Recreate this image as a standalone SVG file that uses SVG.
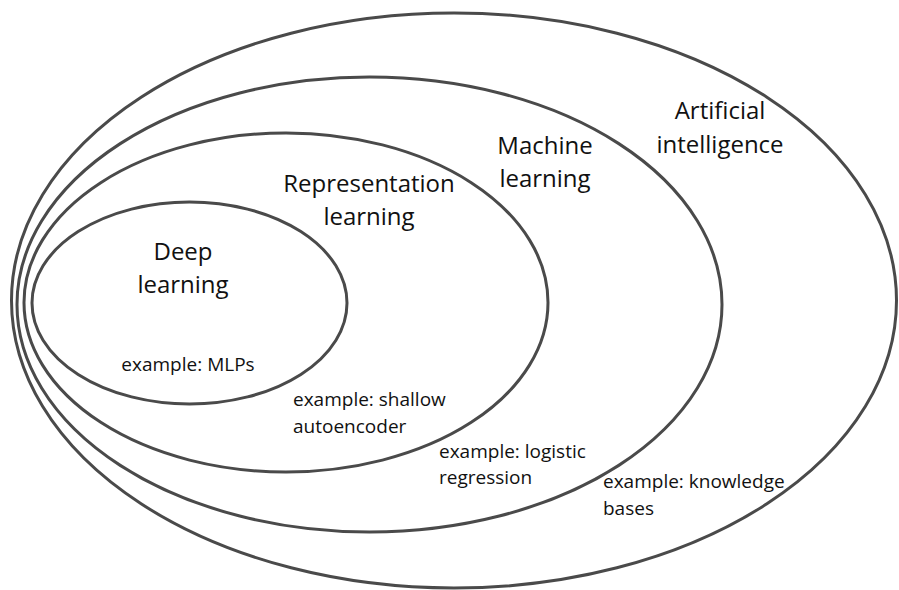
<svg xmlns="http://www.w3.org/2000/svg" width="899" height="590" viewBox="0 0 899 590">
  <style>
    .ring { fill: none; stroke: #4a4a4a; stroke-width: 3; }
    .title { font-family: "Open Sans", "Liberation Sans", sans-serif; font-size: 24px; fill: #111111; text-anchor: middle; }
    .note { font-family: "Open Sans", "Liberation Sans", sans-serif; font-size: 19px; fill: #111111; }
  </style>
  <rect width="899" height="590" fill="#ffffff"/>

  <g id="artificial-intelligence">
    <ellipse class="ring" cx="454" cy="300.5" rx="442.5" ry="287.5"/>
    <text class="title" x="720" y="119">Artificial</text>
    <text class="title" x="720" y="153">intelligence</text>
    <text class="note" x="603" y="488">example: knowledge</text>
    <text class="note" x="603" y="515">bases</text>
  </g>

  <g id="machine-learning">
    <ellipse class="ring" cx="369.5" cy="304.5" rx="352.5" ry="227.5"/>
    <text class="title" x="545" y="154">Machine</text>
    <text class="title" x="545" y="187">learning</text>
    <text class="note" x="439" y="458">example: logistic</text>
    <text class="note" x="439" y="484">regression</text>
  </g>

  <g id="representation-learning">
    <ellipse class="ring" cx="286" cy="302.5" rx="262" ry="169.5"/>
    <text class="title" x="369" y="192">Representation</text>
    <text class="title" x="369" y="225">learning</text>
    <text class="note" x="293" y="406">example: shallow</text>
    <text class="note" x="293" y="433">autoencoder</text>
  </g>

  <g id="deep-learning">
    <ellipse class="ring" cx="189.5" cy="303" rx="157.5" ry="101"/>
    <text class="title" x="183" y="260">Deep</text>
    <text class="title" x="183" y="293">learning</text>
    <text class="note" x="188" y="371" text-anchor="middle">example: MLPs</text>
  </g>
</svg>
